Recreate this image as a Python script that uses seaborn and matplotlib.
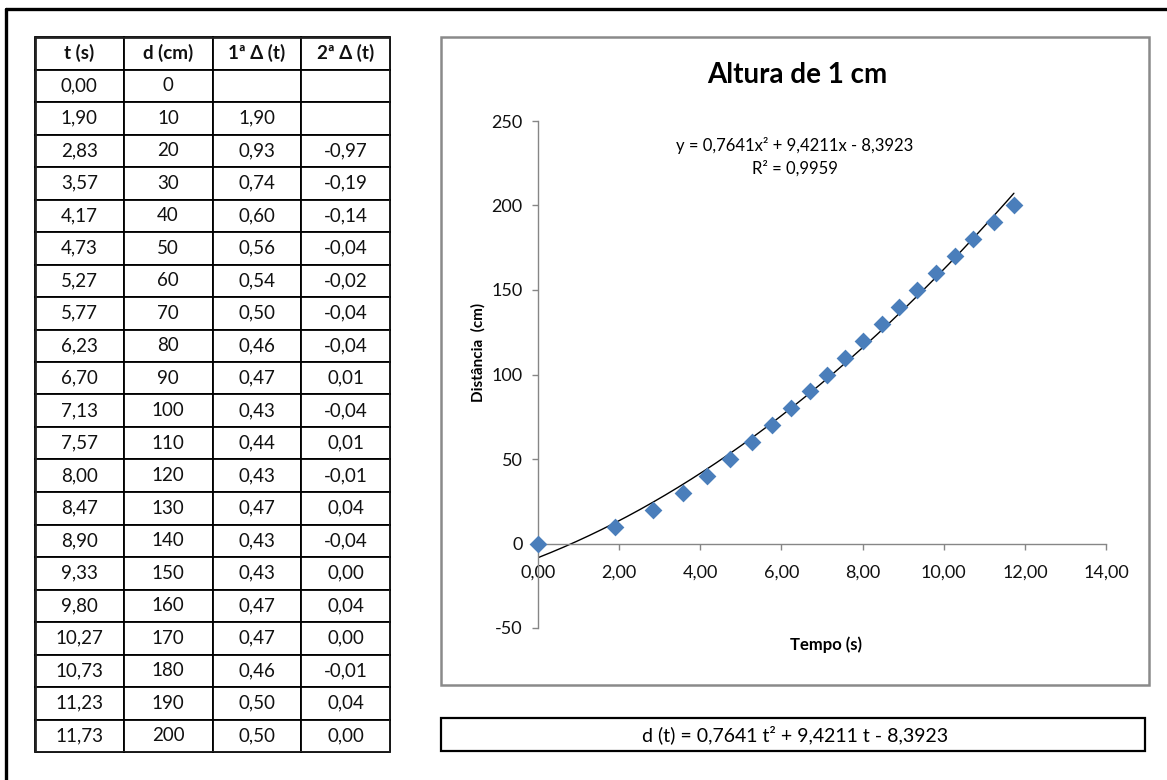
import numpy as np
import matplotlib
matplotlib.use("Agg")
import matplotlib.pyplot as plt
import seaborn as sns
from matplotlib.patches import Rectangle
from matplotlib.lines import Line2D

# Measured times (s) and distances (cm)
tempo = [0.00, 1.90, 2.83, 3.57, 4.17, 4.73, 5.27, 5.77, 6.23, 6.70, 7.13,
         7.57, 8.00, 8.47, 8.90, 9.33, 9.80, 10.27, 10.73, 11.23, 11.73]
distancia = [0, 10, 20, 30, 40, 50, 60, 70, 80, 90, 100,
             110, 120, 130, 140, 150, 160, 170, 180, 190, 200]
# First and second differences of the time column
delta1 = [None, 1.90, 0.93, 0.74, 0.60, 0.56, 0.54, 0.50, 0.46, 0.47, 0.43,
          0.44, 0.43, 0.47, 0.43, 0.43, 0.47, 0.47, 0.46, 0.50, 0.50]
delta2 = [None, None, -0.97, -0.19, -0.14, -0.04, -0.02, -0.04, -0.04, 0.01, -0.04,
          0.01, -0.01, 0.04, -0.04, 0.00, 0.04, 0.00, -0.01, 0.04, 0.00]
col_labels = ["t (s)", "d (cm)", "1ª Δ (t)", "2ª Δ (t)"]

# Quadratic trend line d(t) = a t² + b t + c
coef = [0.7641, 9.4211, -8.3923]
r2 = 0.9959

x_ticks = [0, 2, 4, 6, 8, 10, 12, 14]
y_ticks = [-50, 0, 50, 100, 150, 200, 250]

titulo = "Altura de 1 cm"
rotulo_x = "Tempo (s)"
rotulo_y = "Distância  (cm)"


def br(v, nd=2):
    return f"{v:.{nd}f}".replace(".", ",")


sns.set_theme(style="white")
plt.rcParams["font.family"] = ["Lato", "DejaVu Sans"]

W, H = 1167, 780
fig = plt.figure(figsize=(W / 100, H / 100), dpi=100)
fig.patch.set_facecolor("white")


def fx(px):
    return px / W


def fy(py):
    return 1 - py / H


# Page frame (top and left rules)
fig.add_artist(Line2D([fx(6), 1.0], [fy(9), fy(9)], color="black", lw=2.4))
fig.add_artist(Line2D([fx(6), fx(6)], [fy(9), 0.0], color="black", lw=2.4))

# ---- Data table ----
tab_ax = fig.add_axes([fx(35), fy(752), fx(390) - fx(35), fy(37) - fy(752)])
tab_ax.axis("off")
rows = []
for t, d, a, b in zip(tempo, distancia, delta1, delta2):
    rows.append([br(t), str(d),
                 "" if a is None else br(a),
                 "" if b is None else br(b)])
tbl = tab_ax.table(cellText=rows, colLabels=col_labels, cellLoc="center",
                   bbox=[0, 0, 1, 1])
tbl.auto_set_font_size(False)
tbl.set_fontsize(13.5)
for (r, c), cell in tbl.get_celld().items():
    cell.set_edgecolor("black")
    cell.set_linewidth(1.3)
    cell.set_facecolor("white")
    cell.get_text().set_color("#111111")
    if r == 0:
        cell.get_text().set_fontweight("bold")
tab_ax.add_patch(Rectangle((0, 0), 1, 1, transform=tab_ax.transAxes,
                           fill=False, edgecolor="#222222", lw=2.0, zorder=5))

# ---- Chart box ----
fig.add_artist(Rectangle((fx(441), fy(685)), fx(1149) - fx(441), fy(37) - fy(685),
                         fill=False, edgecolor="#8a8a8a", lw=1.8))

ax = fig.add_axes([fx(538), fy(628), fx(1106) - fx(538), fy(121) - fy(628)])
ax.set_facecolor("white")

tt = np.linspace(0, tempo[-1], 300)
sns.lineplot(x=tt, y=np.polyval(coef, tt), color="black", lw=1.0,
             sort=False, ax=ax, zorder=2)
sns.scatterplot(x=tempo, y=distancia, marker="D", s=82, color="#4A7EBB",
                edgecolor="#4A7EBB", linewidth=0, ax=ax, zorder=3, clip_on=False)

ax.set_xlim(0, 14)
ax.set_ylim(-50, 250)
ax.set_xticks(x_ticks)
ax.set_xticklabels([br(v) for v in x_ticks])
ax.set_yticks(y_ticks)
ax.set_yticklabels([str(v) for v in y_ticks])

for s in ("top", "right"):
    ax.spines[s].set_visible(False)
ax.spines["bottom"].set_position(("data", 0))
for s in ("left", "bottom"):
    ax.spines[s].set_color("#868686")
    ax.spines[s].set_linewidth(1.0)

ax.tick_params(axis="x", bottom=True, direction="out", length=4, width=1,
               color="#868686", labelsize=13, pad=11, labelcolor="#111111")
ax.tick_params(axis="y", left=True, direction="out", length=4, width=1,
               color="#868686", labelsize=13, pad=7, labelcolor="#111111")
ax.set_xlabel("")
ax.set_ylabel("")

fig.text(fx(797), fy(75), titulo, ha="center", va="center",
         fontsize=20, fontweight="bold", color="black")
fig.text(fx(795), fy(145),
         f"y = {br(coef[0], 4)}x² + {br(coef[1], 4)}x - {br(-coef[2], 4)}",
         ha="center", va="center", fontsize=12, color="black")
fig.text(fx(795), fy(168), f"R² = {br(r2, 4)}",
         ha="center", va="center", fontsize=12, color="black")
fig.text(fx(478), fy(352), rotulo_y, ha="center", va="center", rotation=90,
         fontsize=11, fontweight="bold", color="black")
fig.text(fx(826), fy(645), rotulo_x, ha="center", va="center",
         fontsize=12, fontweight="bold", color="black")

# ---- Fitted equation box ----
fig.add_artist(Rectangle((fx(441), fy(751)), fx(1145) - fx(441), fy(718) - fy(751),
                         fill=False, edgecolor="black", lw=1.6))
fig.text(fx(795), fy(735),
         f"d (t) = {br(coef[0], 4)} t² + {br(coef[1], 4)} t - {br(-coef[2], 4)}",
         ha="center", va="center", fontsize=14, color="black")

fig.savefig("out.png", dpi=100, facecolor="white")
